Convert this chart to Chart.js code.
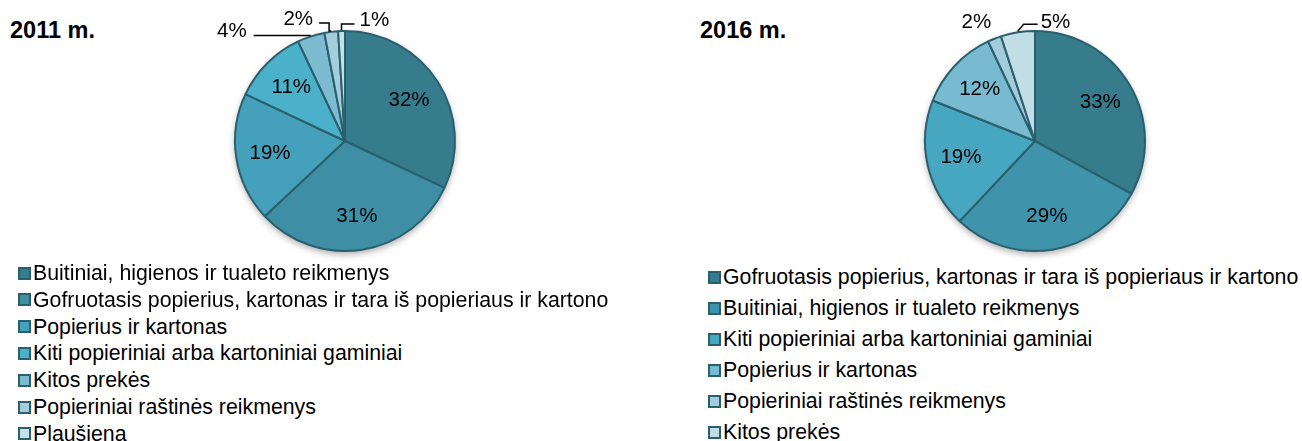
<!DOCTYPE html>
<html><head><meta charset="utf-8">
<script src="https://cdn.jsdelivr.net/npm/chart.js@4/dist/chart.umd.min.js"></script>
<style>
html,body{margin:0;padding:0;background:#fff;width:1302px;height:441px;overflow:hidden;font-family:"Liberation Sans",Arial,sans-serif;}
.box{position:absolute;}
.title{position:absolute;font-weight:bold;font-size:23.5px;color:#000;line-height:26px;}
.legend{position:absolute;font-size:21.3px;color:#000;}
.legend .row{position:absolute;left:0;white-space:nowrap;display:flex;align-items:center;height:24px;line-height:24px;}
.legend .sw{box-sizing:border-box;width:13px;height:13px;border:2px solid #2a5f6d;margin-right:2px;}
</style></head><body>
<div class="title" style="left:10px;top:17px">2011 m.</div>
<div class="title" style="left:700px;top:17px">2016 m.</div>
<div class="box" style="left:0;top:0;width:690px;height:262px"><canvas id="c1"></canvas></div>
<div class="box" style="left:690px;top:0;width:690px;height:262px"><canvas id="c2"></canvas></div>
<div class="legend" id="lg1" style="left:18px;top:0"></div>
<div class="legend" id="lg2" style="left:708px;top:0"></div>
<script>
// ---- data ----
const categories2011 = [
  "Buitiniai, higienos ir tualeto reikmenys",
  "Gofruotasis popierius, kartonas ir tara iš popieriaus ir kartono",
  "Popierius ir kartonas",
  "Kiti popieriniai arba kartoniniai gaminiai",
  "Kitos prekės",
  "Popieriniai raštinės reikmenys",
  "Plaušiena"
];
const values2011 = [32, 31, 19, 11, 4, 2, 1];

const categories2016 = [
  "Gofruotasis popierius, kartonas ir tara iš popieriaus ir kartono",
  "Buitiniai, higienos ir tualeto reikmenys",
  "Kiti popieriniai arba kartoniniai gaminiai",
  "Popierius ir kartonas",
  "Popieriniai raštinės reikmenys",
  "Kitos prekės"
];
const values2016 = [33, 29, 19, 12, 2, 5];

const titles = ["2011 m.", "2016 m."];

// ---- styles ----
const colors2011 = ["#367c8c", "#3e8fa6", "#45a0bb", "#4bb1cb", "#7dbcd0", "#a5cedc", "#c6e0e8"];
const colors2016 = ["#367c8c", "#3f93ab", "#47a6c0", "#78bad0", "#a3cddb", "#c1dde6"];
const borderCol = "#2a5f6d";

const pieLabels = {
  id: 'pieLabels',
  beforeDatasetsDraw(chart) {
    const meta = chart.getDatasetMeta(0);
    if (!meta.data.length) return;
    const a = meta.data[0];
    const ctx = chart.ctx;
    ctx.save();
    ctx.shadowColor = 'rgba(0,0,0,0.35)';
    ctx.shadowBlur = 7;
    ctx.shadowOffsetY = 3;
    ctx.fillStyle = '#ffffff';
    ctx.beginPath();
    ctx.arc(a.x, a.y, a.outerRadius, 0, Math.PI * 2);
    ctx.fill();
    ctx.restore();
  },
  afterDatasetsDraw(chart, args, opts) {
    const ctx = chart.ctx;
    const meta = chart.getDatasetMeta(0);
    const ds = chart.data.datasets[0];
    ctx.save();
    ctx.font = opts.font;
    ctx.fillStyle = '#000';
    ctx.strokeStyle = '#000';
    ctx.lineWidth = 1.5;
    meta.data.forEach((arc, i) => {
      const p = arc.getProps(['x', 'y', 'startAngle', 'endAngle', 'outerRadius'], true);
      const mid = (p.startAngle + p.endAngle) / 2;
      const txt = ds.data[i] + '%';
      const ext = (opts.outside || {})[i];
      if (!ext) {
        const r = p.outerRadius * opts.inner;
        ctx.textAlign = 'center';
        ctx.textBaseline = 'middle';
        ctx.fillText(txt, p.x + Math.cos(mid) * r, p.y + Math.sin(mid) * r);
        return;
      }
      const ax = p.x + Math.cos(mid) * (p.outerRadius + 1);
      const ay = p.y + Math.sin(mid) * (p.outerRadius + 1);
      let px = ax, py = ay;
      if (ext.line) ctx.beginPath(), ctx.moveTo(ax, ay);
      ext.path.forEach(([dx, dy]) => { px = ax + dx; py = ay + dy; if (ext.line) ctx.lineTo(px, py); });
      if (ext.line) ctx.stroke();
      ctx.textAlign = ext.align;
      ctx.textBaseline = 'middle';
      ctx.fillText(txt, px + (ext.align === 'right' ? -ext.gap : ext.gap), py + ext.ty);
    });
    ctx.restore();
  }
};

function makePie(id, cats, vals, cols, outside) {
  return new Chart(document.getElementById(id), {
    type: 'pie',
    data: {
      labels: cats,
      datasets: [{
        data: vals,
        backgroundColor: cols,
        borderColor: borderCol,
        borderWidth: 2
      }]
    },
    options: {
      responsive: true,
      maintainAspectRatio: false,
      animation: false,
      layout: { padding: { top: 30, bottom: 10, left: 0, right: 0 } },
      plugins: {
        legend: { display: false },
        tooltip: { enabled: false },
        pieLabels: { font: '20.5px "Liberation Sans", Arial, sans-serif', inner: 0.69, outside: outside }
      }
    },
    plugins: [pieLabels]
  });
}

const ch1 = makePie('c1', categories2011, values2011, colors2011, {
  4: { line: true, path: [[-57, 0]], align: 'right', gap: 7, ty: -4 },
  5: { line: true, path: [[-2, 0], [-2, -8], [-12, -8]], align: 'right', gap: 6, ty: -4 },
  6: { line: true, path: [[0, -6], [13, -6]], align: 'left', gap: 5, ty: -4 }
});
const ch2 = makePie('c2', categories2016, values2016, colors2016, {
  4: { line: false, path: [[-1, -15]], align: 'right', gap: 2, ty: 0 },
  5: { line: true, path: [[6, -7], [20, -7]], align: 'left', gap: 3, ty: -2 }
});

function buildLegend(elId, chart, startY, step) {
  const el = document.getElementById(elId);
  const ds = chart.data.datasets[0];
  chart.data.labels.forEach((lab, i) => {
    const row = document.createElement('div');
    row.className = 'row';
    row.style.top = (startY + i * step - 12) + 'px';
    const sw = document.createElement('span');
    sw.className = 'sw';
    sw.style.background = ds.backgroundColor[i];
    const t = document.createElement('span');
    t.textContent = lab;
    row.appendChild(sw);
    row.appendChild(t);
    el.appendChild(row);
  });
}
buildLegend('lg1', ch1, 273, 26.8);
buildLegend('lg2', ch2, 277, 31);
</script>
</body></html>
